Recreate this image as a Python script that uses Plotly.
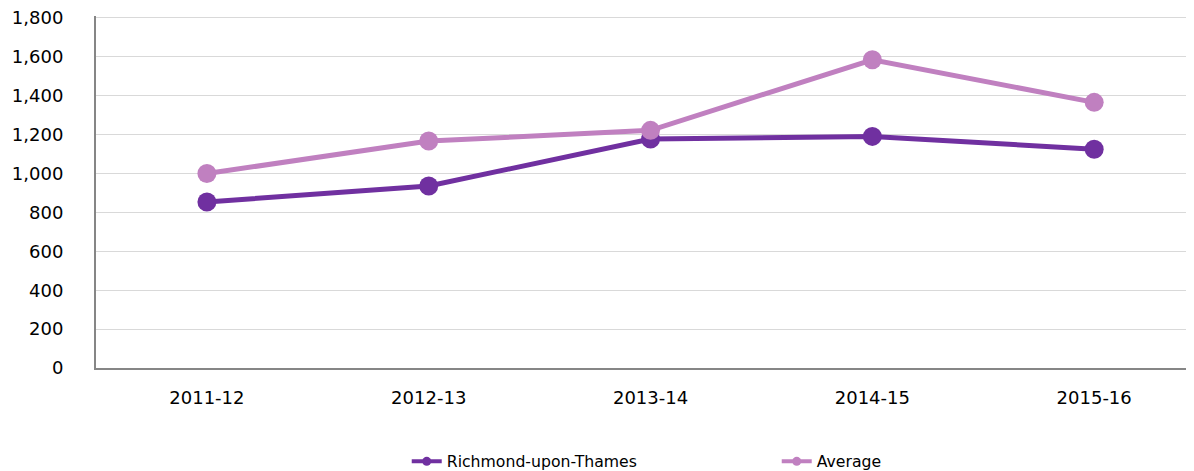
import plotly.graph_objects as go

years = ["2011-12", "2012-13", "2013-14", "2014-15", "2015-16"]
richmond = [854, 936, 1177, 1191, 1125]
average = [1000, 1167, 1222, 1585, 1366]

RICHMOND_COLOR = "#7030A0"
AVERAGE_COLOR = "#C080C0"
FONT = "Verdana, DejaVu Sans, sans-serif"

fig = go.Figure()

for name, vals, color in [("Richmond-upon-Thames", richmond, RICHMOND_COLOR),
                          ("Average", average, AVERAGE_COLOR)]:
    fig.add_trace(go.Scatter(
        x=years, y=vals, mode="lines+markers", name=name,
        line=dict(color=color, width=5),
        marker=dict(color=color, size=19),
        showlegend=False, hoverinfo="x+y+name"
    ))
    # small-marker copy for the legend only
    fig.add_trace(go.Scatter(
        x=[None], y=[None], mode="lines+markers", name=name,
        line=dict(color=color, width=4),
        marker=dict(color=color, size=9),
        showlegend=True
    ))

# page body has an 8px margin, so the figure is sized to fit inside it
fig.update_layout(
    width=1186, height=463, autosize=False,
    plot_bgcolor="white", paper_bgcolor="white",
    font=dict(family=FONT, color="#000000", size=18),
    margin=dict(l=88, r=0, t=8, b=103, autoexpand=False),
    xaxis=dict(
        type="category", range=[-0.5, 4.45],
        showgrid=False, showline=True, linecolor="#868686", linewidth=2,
        ticks="", tickfont=dict(size=18, family=FONT),
        ticklabelstandoff=12
    ),
    yaxis=dict(
        range=[0, 1810], tickvals=list(range(0, 1801, 200)), tickformat=",",
        showgrid=True, gridcolor="#d9d9d9", gridwidth=1,
        showline=True, linecolor="#868686", linewidth=2,
        zeroline=False, ticks="", tickfont=dict(size=18, family=FONT),
        ticklabelstandoff=27, ticklabeloverflow="allow"
    ),
    legend=dict(
        orientation="h", x=0.283, xanchor="left", y=-0.266, yanchor="middle",
        font=dict(size=15.7, family=FONT), entrywidth=325, entrywidthmode="pixels",
        bgcolor="rgba(0,0,0,0)"
    ),
)

fig.write_html("out.html")
